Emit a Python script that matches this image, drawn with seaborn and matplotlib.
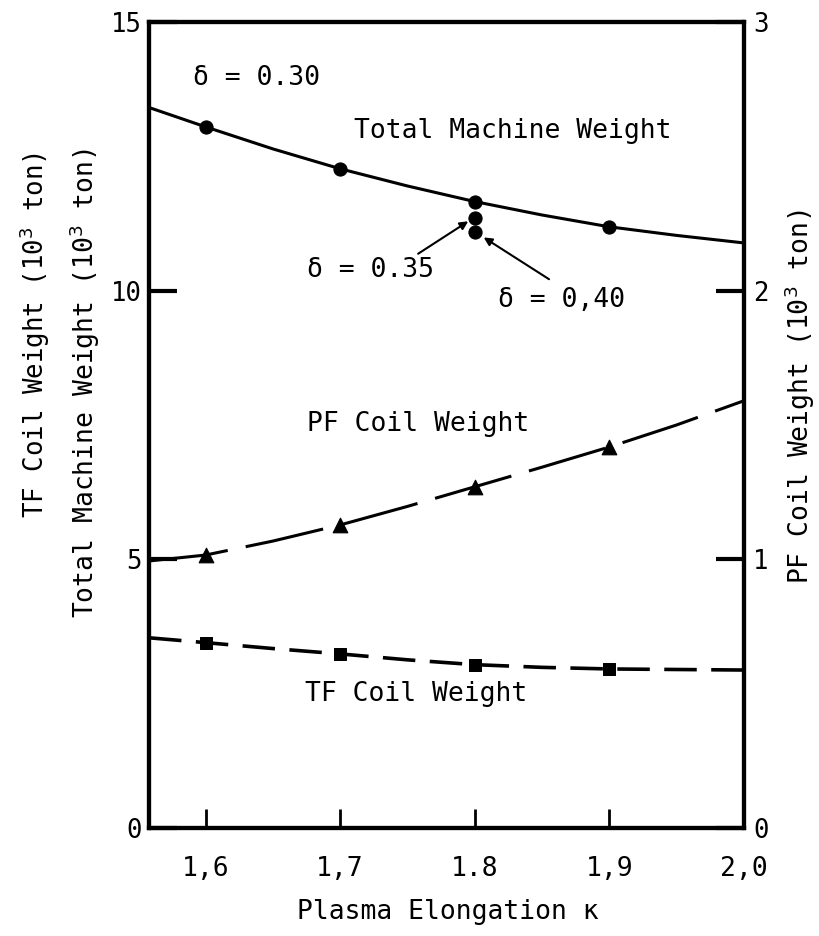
import matplotlib
matplotlib.use("Agg")
import matplotlib.pyplot as plt
import seaborn as sns

# ---- data ----
kappa_pts = [1.6, 1.7, 1.8, 1.9]
total_pts = [13.05, 12.27, 11.66, 11.19]          # delta = 0.30
total_d035 = 11.36                                 # kappa 1.8, delta 0.35
total_d040 = 11.10                                 # kappa 1.8, delta 0.40
pf_pts = [1.016, 1.128, 1.27, 1.418]               # right axis (10^3 ton)
tf_pts = [3.45, 3.24, 3.04, 2.96]

# smooth curves traced through the picture
kappa_curve = [1.558, 1.6, 1.65, 1.7, 1.75, 1.8, 1.85, 1.9, 1.95, 2.0]
total_curve = [13.41, 13.05, 12.64, 12.27, 11.95, 11.66, 11.41, 11.19, 11.03, 10.89]
pf_curve = [0.994, 1.016, 1.068, 1.128, 1.197, 1.27, 1.343, 1.418, 1.50, 1.59]
tf_curve = [3.54, 3.45, 3.34, 3.24, 3.13, 3.04, 2.99, 2.96, 2.95, 2.94]

xticks = [1.6, 1.7, 1.8, 1.9, 2.0]
xticklabels = ["1,6", "1,7", "1.8", "1,9", "2,0"]
yticks_left = [0, 5, 10, 15]
yticks_right = [0, 1, 2, 3]

sns.set_style("white")
plt.rcParams['font.family'] = ['DejaVu Sans Mono', 'DejaVu Sans']
plt.rcParams['text.color'] = 'black'
plt.rcParams['axes.labelcolor'] = 'black'
plt.rcParams['xtick.color'] = 'black'
plt.rcParams['ytick.color'] = 'black'

fig = plt.figure(figsize=(8.19, 9.36), dpi=100)
ax = fig.add_axes([0.182, 0.1154, 0.726, 0.861])
ax2 = ax.twinx()

# Total machine weight
sns.lineplot(x=kappa_curve, y=total_curve, ax=ax, color="black", lw=2.2)
sns.scatterplot(x=kappa_pts, y=total_pts, ax=ax, color="black", marker="o", s=90,
                edgecolor="black", zorder=5)
sns.scatterplot(x=[1.8, 1.8], y=[total_d035, total_d040], ax=ax, color="black",
                marker="o", s=90, edgecolor="black", zorder=5)

# TF coil weight
sns.lineplot(x=kappa_curve, y=tf_curve, ax=ax, color="black", lw=2.6,
             linestyle=(0, (9, 4)))
sns.scatterplot(x=kappa_pts, y=tf_pts, ax=ax, color="black", marker="s", s=80,
                edgecolor="black", zorder=5)

# PF coil weight (right axis)
sns.lineplot(x=kappa_curve, y=pf_curve, ax=ax2, color="black", lw=2.2,
             linestyle=(0, (26, 6)))
sns.scatterplot(x=kappa_pts, y=pf_pts, ax=ax2, color="black", marker="^", s=110,
                edgecolor="black", zorder=5)

ax.set_xlim(1.558, 2.0)
ax.set_ylim(0, 15)
ax2.set_ylim(0, 3)

ax.set_xticks(xticks)
ax.set_xticklabels(xticklabels)
ax.set_yticks(yticks_left)
ax.set_yticklabels([str(v) for v in yticks_left])
ax2.set_yticks(yticks_right)
ax2.set_yticklabels([str(v) for v in yticks_right])

ax.tick_params(axis="x", bottom=True, direction="in", length=14, width=2,
               labelsize=19, pad=20, colors="black")
ax.tick_params(axis="y", left=True, direction="in", length=20, width=3,
               labelsize=18.5, pad=5, colors="black")
ax2.tick_params(axis="y", right=True, direction="in", length=20, width=3,
                labelsize=18.5, pad=7, colors="black")

for a in (ax, ax2):
    for sp in a.spines.values():
        sp.set_visible(True)
        sp.set_linewidth(3)
        sp.set_color("black")

fs = 19


def px_to_data(px, py):
    # helper converting reference pixel positions to data coordinates
    x = 1.558 + (px - 149) / 1343.0
    y = (828 - py) / 53.73
    return x, y


ax.text(*px_to_data(256, 78), "δ = 0.30", fontsize=fs, ha="center", va="center")
ax.text(*px_to_data(512, 131), "Total Machine Weight", fontsize=fs,
        ha="center", va="center")
ax.text(*px_to_data(418, 424), "PF Coil Weight", fontsize=fs, ha="center", va="center")
ax.text(*px_to_data(416, 694), "TF Coil Weight", fontsize=fs, ha="center", va="center")

ax.annotate("δ = 0.35", xy=(1.797, 11.32), xytext=px_to_data(370, 270), fontsize=fs,
            ha="center", va="center",
            arrowprops=dict(arrowstyle="-|>", color="black", lw=1.5,
                            shrinkA=0, shrinkB=2, mutation_scale=12,
                            relpos=(0.82, 0.95)))
ax.annotate("δ = 0,40", xy=(1.805, 11.02), xytext=px_to_data(561, 300), fontsize=fs,
            ha="center", va="center",
            arrowprops=dict(arrowstyle="-|>", color="black", lw=1.5,
                            shrinkA=0, shrinkB=2, mutation_scale=12,
                            relpos=(0.4, 1.3)))

ax.set_xlabel("")
ax.set_ylabel("")
ax2.set_ylabel("")

fig.text(448 / 819, 1 - 912 / 936, "Plasma Elongation κ", fontsize=fs,
         ha="center", va="center")
fig.text(35 / 819, 1 - 152 / 936, "TF Coil Weight (10$^3$ ton)", fontsize=18.5,
         rotation=90, ha="center", va="top")
fig.text(85 / 819, 1 - 148 / 936, "Total Machine Weight (10$^3$ ton)", fontsize=fs,
         rotation=90, ha="center", va="top")
fig.text(800 / 819, 1 - 397 / 936, "PF Coil Weight (10$^3$ ton)", fontsize=fs,
         rotation=90, ha="center", va="center")

fig.savefig("out.png", dpi=100, facecolor="white")
